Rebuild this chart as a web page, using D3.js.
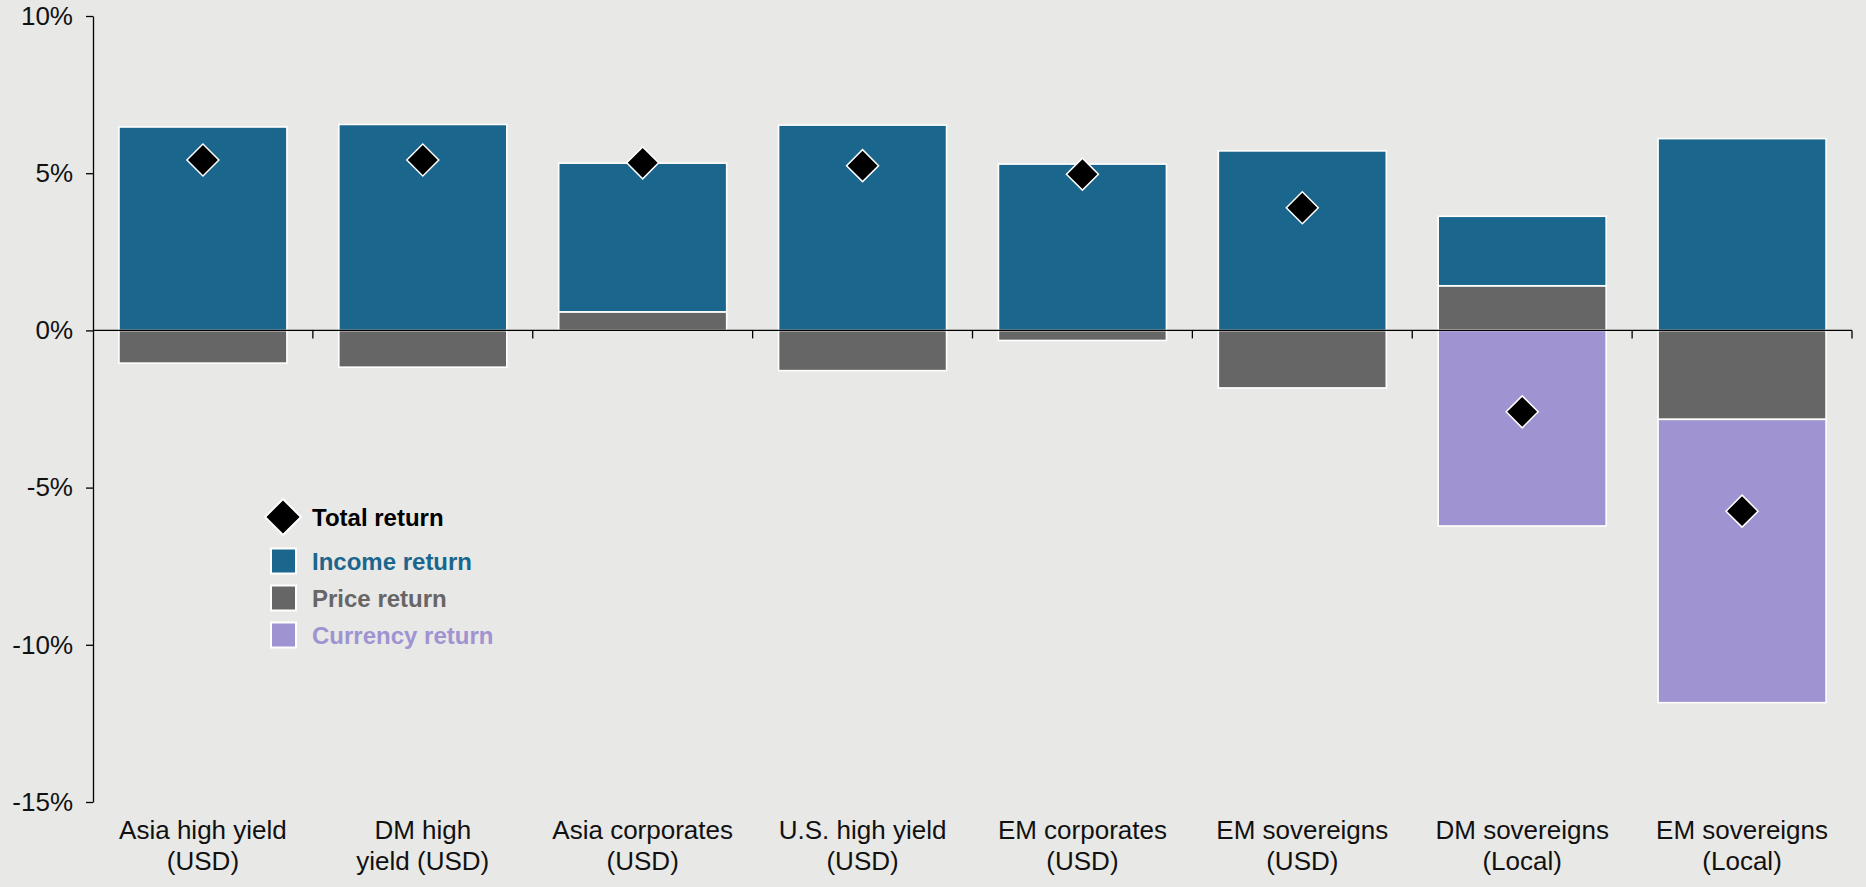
<!DOCTYPE html>
<html>
<head>
<meta charset="utf-8">
<script src="https://cdn.jsdelivr.net/npm/d3@7"></script>
<style>
  html, body { margin: 0; padding: 0; background: #e8e8e6; }
  svg { display: block; font-family: "Liberation Sans", Arial, sans-serif; }
</style>
</head>
<body>
<script>
// ---- Data ----
const categories = ["Asia high yield (USD)", "DM high yield (USD)", "Asia corporates (USD)", "U.S. high yield (USD)",
                    "EM corporates (USD)", "EM sovereigns (USD)", "DM sovereigns (Local)", "EM sovereigns (Local)"];
const labelLines = [["Asia high yield", "(USD)"], ["DM high", "yield (USD)"], ["Asia corporates", "(USD)"], ["U.S. high yield", "(USD)"],
                    ["EM corporates", "(USD)"], ["EM sovereigns", "(USD)"], ["DM sovereigns", "(Local)"], ["EM sovereigns", "(Local)"]];
const incomeReturn   = [6.47, 6.55, 4.73, 6.53, 5.29, 5.71, 2.21, 6.10];
const priceReturn    = [-1.04, -1.17, 0.59, -1.28, -0.32, -1.83, 1.42, -2.83];
const currencyReturn = [0, 0, 0, 0, 0, 0, -6.22, -9.01];
const totalReturn    = [5.42, 5.42, 5.33, 5.24, 4.97, 3.90, -2.59, -5.75];
const yTicks = [-15, -10, -5, 0, 5, 10];
const seriesNames = ["Income return", "Price return", "Currency return"];

const colors = { income: "#1a668d", price: "#666666", currency: "#9f93d1" };

const W = 1866, H = 887;
const svg = d3.select("body").append("svg").attr("width", W).attr("height", H);
svg.append("rect").attr("width", W).attr("height", H).attr("fill", "#e8e8e6");

const x = d3.scaleBand().domain(categories).range([93, 1852]).paddingInner(0.236).paddingOuter(0.118);
const y = d3.scaleLinear().domain([-15, 10]).range([802, 16]);

// stacked data
const rows = categories.map((c, i) => ({ cat: c, price: priceReturn[i], income: incomeReturn[i], currency: currencyReturn[i] }));
const stack = d3.stack().keys(["price", "income", "currency"]).offset(d3.stackOffsetDiverging);
const layers = stack(rows);

const g = svg.append("g");
layers.forEach(layer => {
  g.selectAll(null).data(layer.filter(d => d[1] !== d[0])).enter().append("rect")
    .attr("x", d => x(d.data.cat))
    .attr("width", x.bandwidth())
    .attr("y", d => y(Math.max(d[0], d[1])))
    .attr("height", d => Math.abs(y(d[0]) - y(d[1])))
    .attr("fill", colors[layer.key])
    .attr("stroke", "#ffffff")
    .attr("stroke-width", 1.6);
});

// y axis
const yAxis = d3.axisLeft(y).tickValues(yTicks).tickFormat(d => d + "%").tickSize(7).tickSizeOuter(0).tickPadding(13);
const ya = svg.append("g").attr("transform", "translate(93,0)").call(yAxis);
ya.select(".domain").attr("stroke", "#000").attr("stroke-width", 1.3);
ya.selectAll(".tick line").attr("stroke", "#000").attr("stroke-width", 1.3);
ya.selectAll(".tick text").attr("font-size", 26).attr("fill", "#111").attr("font-family", "'Liberation Sans', Arial, sans-serif");

// x axis line at zero
const y0 = y(0);
const r = x.range();
svg.append("line").attr("x1", r[0]).attr("x2", r[1]).attr("y1", y0).attr("y2", y0)
  .attr("stroke", "#000").attr("stroke-width", 1.3);
const half = (x.step() - x.bandwidth()) / 2;
const bounds = categories.map(c => x(c) - half).concat([x(categories[categories.length - 1]) + x.bandwidth() + half]);
svg.selectAll(null).data(bounds.slice(1)).enter().append("line")
  .attr("x1", d => d).attr("x2", d => d).attr("y1", y0).attr("y2", y0 + 8)
  .attr("stroke", "#000").attr("stroke-width", 1.3);

// category labels
categories.forEach((c, i) => {
  const t = svg.append("text").attr("text-anchor", "middle").attr("font-size", 26).attr("fill", "#111");
  labelLines[i].forEach((ln, j) => {
    t.append("tspan").attr("x", x(c) + x.bandwidth() / 2).attr("y", 839 + j * 31).text(ln);
  });
});

// total return diamonds
const diamond = d3.symbol().type(d3.symbolSquare).size(512);
svg.selectAll(null).data(categories).enter().append("path")
  .attr("d", diamond)
  .attr("transform", (c, i) => `translate(${x(c) + x.bandwidth() / 2},${y(totalReturn[i])}) rotate(45)`)
  .attr("fill", "#000").attr("stroke", "#fff").attr("stroke-width", 1.5);

// legend
const lg = svg.append("g");
lg.append("path").attr("d", d3.symbol().type(d3.symbolSquare).size(648))
  .attr("transform", "translate(283,517) rotate(45)")
  .attr("fill", "#000").attr("stroke", "#fff").attr("stroke-width", 2);
lg.append("text").attr("x", 312).attr("y", 526).attr("font-size", 24).attr("font-weight", "bold").attr("fill", "#000").text("Total return");
const legColors = [colors.income, colors.price, colors.currency];
seriesNames.forEach((name, i) => {
  const cy = 561 + i * 37;
  lg.append("rect").attr("x", 271).attr("y", cy - 12.5).attr("width", 25).attr("height", 25)
    .attr("fill", legColors[i]).attr("stroke", "#fff").attr("stroke-width", 2);
  lg.append("text").attr("x", 312).attr("y", cy + 9).attr("font-size", 24).attr("font-weight", "bold")
    .attr("fill", legColors[i]).text(name);
});
</script>
</body>
</html>
